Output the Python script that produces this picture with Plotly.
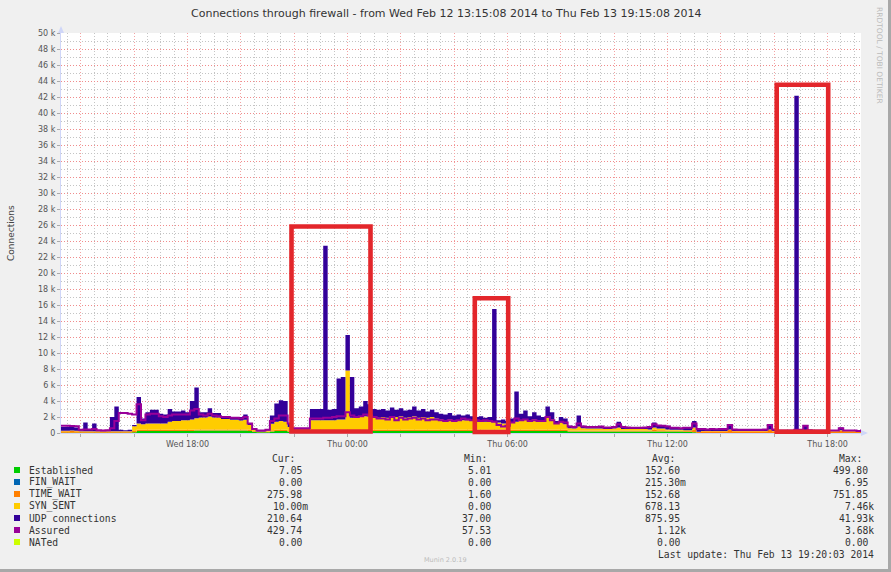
import pandas as pd
import plotly.graph_objects as go

# ---------------- data (10-minute samples, 6 per hour, 30 hours + last sample) ----------------
start = pd.Timestamp("2014-02-12 13:15:08")
end = pd.Timestamp("2014-02-13 19:15:08")
times = pd.date_range(start, periods=181, freq="10min")

established = [
    30, 30, 30, 30, 30, 30,
    30, 30, 30, 30, 30, 30,
    30, 30, 30, 30, 100, 250,
    250, 250, 250, 250, 250, 250,
    250, 250, 250, 250, 250, 250,
    300, 300, 300, 300, 300, 300,
    300, 300, 300, 300, 300, 300,
    250, 150, 100, 100, 100, 200,
    250, 250, 250, 150, 100, 100,
    100, 100, 250, 250, 250, 250,
    250, 250, 250, 250, 250, 250,
    250, 250, 250, 250, 250, 250,
    250, 250, 250, 250, 250, 250,
    250, 250, 250, 250, 250, 250,
    250, 250, 250, 250, 250, 250,
    250, 250, 250, 250, 250, 250,
    250, 250, 250, 250, 250, 250,
    250, 250, 250, 250, 250, 250,
    250, 250, 250, 250, 250, 250,
    200, 200, 200, 200, 200, 200,
    200, 200, 200, 200, 200, 200,
    200, 200, 200, 200, 200, 200,
    200, 200, 200, 200, 200, 200,
    200, 200, 150, 150, 100, 10,
    10, 10, 10, 10, 10, 10,
    10, 10, 10, 10, 10, 10,
    10, 10, 10, 10, 10, 10,
    10, 10, 10, 10, 10, 10,
    10, 10, 10, 10, 10, 10,
    10, 10, 10, 10, 10, 10,
    7,
]

fin_wait = [
    0, 0, 0, 0, 0, 0,  0, 0, 0, 0, 0, 0,  0, 0, 0, 0, 0, 0,
    0, 0, 0, 0, 0, 0,  0, 0, 0, 0, 0, 0,  0, 0, 0, 0, 0, 0,
    0, 0, 0, 0, 0, 0,  0, 0, 0, 0, 0, 0,  0, 0, 0, 0, 0, 0,
    0, 0, 0, 0, 0, 0,  0, 0, 0, 0, 0, 0,  0, 0, 0, 0, 0, 0,
    0, 0, 0, 0, 0, 0,  0, 0, 0, 0, 0, 0,  0, 0, 0, 0, 0, 0,
    0, 0, 0, 0, 0, 0,  0, 0, 0, 0, 0, 0,  0, 0, 0, 0, 0, 0,
    0, 0, 0, 0, 0, 0,  0, 0, 0, 0, 0, 0,  0, 0, 0, 0, 0, 0,
    0, 0, 0, 0, 0, 0,  0, 0, 0, 0, 0, 0,  0, 0, 0, 0, 0, 0,
    0, 0, 0, 0, 0, 0,  0, 0, 0, 0, 0, 0,  0, 0, 0, 0, 0, 0,
    0, 0, 0, 0, 0, 0,  0, 0, 0, 0, 0, 0,  0, 0, 0, 0, 0, 0,
    0,
]

time_wait = [
    200, 200, 220, 200, 150, 150,
    150, 150, 150, 150, 150, 150,
    150, 150, 150, 150, 150, 150,
    150, 150, 150, 150, 150, 150,
    150, 150, 150, 150, 150, 150,
    150, 150, 150, 150, 150, 150,
    150, 150, 150, 150, 150, 150,
    150, 100, 50, 50, 100, 150,
    150, 150, 150, 100, 100, 100,
    100, 100, 150, 150, 150, 150,
    150, 150, 150, 150, 150, 150,
    150, 150, 150, 150, 150, 150,
    150, 150, 150, 150, 150, 150,
    150, 150, 150, 150, 150, 150,
    150, 150, 150, 150, 150, 150,
    150, 150, 150, 150, 150, 150,
    150, 150, 150, 150, 150, 150,
    150, 150, 150, 150, 150, 150,
    150, 150, 150, 150, 150, 150,
    100, 100, 100, 100, 100, 100,
    100, 100, 100, 100, 100, 100,
    100, 100, 100, 100, 100, 100,
    100, 200, 150, 150, 100, 100,
    100, 100, 100, 100, 300, 100,
    200, 200, 200, 200, 200, 200,
    400, 200, 200, 200, 200, 200,
    200, 200, 200, 400, 200, 200,
    200, 200, 200, 200, 200, 300,
    200, 200, 200, 200, 200, 200,
    200, 300, 200, 200, 200, 200,
    276,
]

syn_sent = [
    50, 50, 50, 50, 40, 40,
    50, 50, 50, 50, 50, 50,
    50, 50, 50, 50, 600, 800,
    700, 800, 800, 800, 800, 800,
    1000, 1100, 1100, 1200, 1200, 1300,
    1400, 1500, 1500, 1600, 1500, 1500,
    1300, 1300, 1200, 1200, 1100, 1200,
    600, 150, 50, 50, 100, 800,
    1000, 1100, 1000, 500, 200, 200,
    200, 200, 1200, 1200, 1200, 1200,
    1200, 1200, 1300, 1300, 7400, 1500,
    1500, 1600, 1700, 1700, 1600, 1500,
    1600, 1500, 1700, 1600, 1700, 1500,
    1600, 1700, 1500, 1600, 1500, 1600,
    1400, 1300, 1200, 1300, 1200, 1200,
    1200, 1200, 1100, 1000, 1000, 1000,
    1000, 1000, 900, 800, 800, 900,
    1000, 1200, 1300, 1200, 1300, 1200,
    1100, 1500, 1300, 800, 900, 700,
    300, 250, 500, 300, 250, 250,
    250, 250, 200, 200, 250, 400,
    200, 200, 200, 200, 200, 200,
    150, 300, 200, 200, 150, 100,
    100, 100, 100, 100, 300, 50,
    30, 30, 30, 30, 30, 30,
    30, 30, 30, 30, 30, 30,
    30, 30, 30, 30, 30, 30,
    30, 30, 30, 30, 30, 30,
    30, 30, 30, 30, 30, 30,
    30, 30, 30, 30, 30, 30,
    0.01,
]

udp_connections = [
    470, 500, 450, 420, 130, 1080,
    270, 970, 120, 70, 120, 1770,
    3070, 170, 120, 170, 150, 3300,
    700, 1400, 1700, 1700, 1200, 1100,
    1600, 1200, 1200, 1200, 1000, 2300,
    3850, 650, 650, 1050, 550, 550,
    350, 250, 350, 250, 450, 650,
    200, 100, 100, 100, 100, 1050,
    2300, 2600, 2600, 450, 200, 200,
    200, 200, 1400, 1400, 1400, 21800,
    1300, 1400, 5100, 5300, 4450, 5100,
    1200, 1300, 1900, 1500, 1000, 1000,
    1000, 900, 1100, 900, 1000, 900,
    900, 1200, 900, 1000, 800, 900,
    800, 700, 700, 800, 600, 700,
    600, 700, 600, 600, 700, 500,
    600, 14100, 300, 500, 300, 500,
    3800, 800, 1100, 500, 900, 600,
    500, 1400, 900, 300, 700, 700,
    300, 250, 1400, 300, 250, 250,
    200, 250, 200, 250, 250, 700,
    300, 200, 150, 200, 150, 200,
    350, 600, 450, 450, 450, 250,
    250, 200, 300, 300, 800, 340,
    260, 210, 260, 240, 260, 260,
    660, 210, 160, 160, 180, 160,
    160, 160, 210, 660, 260, 60,
    60, 60, 60, 41930, 160, 660,
    160, 60, 60, 60, 60, 60,
    60, 360, 60, 60, 60, 40,
    211,
]

assured = [
    900, 900, 880, 850, 400, 450,
    450, 500, 350, 300, 350, 600,
    1500, 2500, 2500, 2400, 2300, 3600,
    1600, 2300, 2400, 2400, 2100, 2000,
    2200, 2300, 2300, 2300, 2300, 2800,
    3000, 2300, 2200, 2400, 2200, 2100,
    2000, 2000, 1900, 1900, 1800, 2000,
    1200, 500, 300, 300, 400, 1500,
    1800, 2200, 2200, 1200, 600, 600,
    600, 600, 1800, 1800, 1800, 1900,
    1900, 2000, 2100, 2100, 2600, 2200,
    2000, 2100, 2300, 2200, 2000, 1800,
    1800, 1700, 2000, 1600, 1900, 1700,
    1800, 1900, 1700, 1800, 1600, 1700,
    1700, 1600, 1500, 1600, 1500, 1600,
    1800, 1700, 1600, 1600, 1500, 1600,
    1500, 1400, 1000, 800, 900, 1300,
    1800, 1600, 1700, 1500, 1600, 1500,
    1500, 2000, 1600, 1200, 1400, 1300,
    800, 750, 1200, 800, 750, 750,
    750, 800, 700, 700, 750, 1100,
    750, 700, 650, 650, 650, 700,
    750, 1100, 950, 900, 800, 650,
    650, 600, 650, 650, 1200, 500,
    500, 450, 500, 480, 500, 500,
    1000, 450, 400, 400, 420, 400,
    400, 400, 450, 1000, 450, 300,
    300, 300, 300, 400, 400, 900,
    350, 300, 300, 300, 300, 300,
    300, 600, 300, 300, 300, 250,
    430,
]

nated = [
    0, 0, 0, 0, 0, 0,  0, 0, 0, 0, 0, 0,  0, 0, 0, 0, 0, 0,
    0, 0, 0, 0, 0, 0,  0, 0, 0, 0, 0, 0,  0, 0, 0, 0, 0, 0,
    0, 0, 0, 0, 0, 0,  0, 0, 0, 0, 0, 0,  0, 0, 0, 0, 0, 0,
    0, 0, 0, 0, 0, 0,  0, 0, 0, 0, 0, 0,  0, 0, 0, 0, 0, 0,
    0, 0, 0, 0, 0, 0,  0, 0, 0, 0, 0, 0,  0, 0, 0, 0, 0, 0,
    0, 0, 0, 0, 0, 0,  0, 0, 0, 0, 0, 0,  0, 0, 0, 0, 0, 0,
    0, 0, 0, 0, 0, 0,  0, 0, 0, 0, 0, 0,  0, 0, 0, 0, 0, 0,
    0, 0, 0, 0, 0, 0,  0, 0, 0, 0, 0, 0,  0, 0, 0, 0, 0, 0,
    0, 0, 0, 0, 0, 0,  0, 0, 0, 0, 0, 0,  0, 0, 0, 0, 0, 0,
    0, 0, 0, 0, 0, 0,  0, 0, 0, 0, 0, 0,  0, 0, 0, 0, 0, 0,
    0,
]

# legend table
series_names = ["Established", "FIN_WAIT", "TIME_WAIT", "SYN_SENT", "UDP connections", "Assured", "NATed"]
series_colors = ["#00CC00", "#0066B3", "#FF8000", "#FFCC00", "#330099", "#990099", "#CCFF00"]
cur_vals = ["7.05", "0.00", "275.98", "10.00m", "210.64", "429.74", "0.00"]
min_vals = ["5.01", "0.00", "1.60", "0.00", "37.00", "57.53", "0.00"]
avg_vals = ["152.60", "215.30m", "152.68", "678.13", "875.95", "1.12k", "0.00"]
max_vals = ["499.80", "6.95", "751.85", "7.46k", "41.93k", "3.68k", "0.00"]

y_tick_vals = [0, 2000, 4000, 6000, 8000, 10000, 12000, 14000, 16000, 18000, 20000, 22000, 24000,
               26000, 28000, 30000, 32000, 34000, 36000, 38000, 40000, 42000, 44000, 46000, 48000, 50000]
y_tick_labels = ["0", "2 k", "4 k", "6 k", "8 k", "10 k", "12 k", "14 k", "16 k", "18 k", "20 k", "22 k", "24 k",
                 "26 k", "28 k", "30 k", "32 k", "34 k", "36 k", "38 k", "40 k", "42 k", "44 k", "46 k", "48 k", "50 k"]
x_label_times = ["2014-02-12 18:00:00", "2014-02-13 00:00:00", "2014-02-13 06:00:00",
                 "2014-02-13 12:00:00", "2014-02-13 18:00:00"]
x_tick_labels = ["Wed 18:00", "Thu 00:00", "Thu 06:00", "Thu 12:00", "Thu 18:00"]

title_text = "Connections through firewall - from Wed Feb 12 13:15:08 2014 to Thu Feb 13 19:15:08 2014"

# ---------------- layout geometry (pixels) ----------------
W, H = 891, 572
PL, PT, PW, PH = 61, 33, 800, 400


def px(x):
    return (x - PL) / PW


def py(y):
    return (PT + PH - y) / PH


SANS = "DejaVu Sans"
MONO = "DejaVu Sans Mono"

fig = go.Figure()

fig.add_trace(go.Scatter(x=times, y=nated, mode="lines", hoverinfo="skip", showlegend=False,
                         line=dict(color="#CCFF00", width=1, shape="hv")))
for name, vals, col in zip(series_names[:5],
                           [established, fin_wait, time_wait, syn_sent, udp_connections],
                           series_colors[:5]):
    fig.add_trace(go.Scatter(x=times, y=vals, name=name, mode="lines", stackgroup="one",
                             line=dict(width=0, shape="hv", color=col), fillcolor=col,
                             showlegend=False, hoverinfo="skip"))
fig.add_trace(go.Scatter(x=times, y=assured, name="Assured", mode="lines", showlegend=False,
                         hoverinfo="skip", line=dict(color="#990099", width=2, shape="hv")))

# x ticks every 2 hours, labels every 6 hours
grid_times = pd.date_range("2014-02-12 14:00:00", "2014-02-13 18:00:00", freq="2h")
label_map = dict(zip([pd.Timestamp(t) for t in x_label_times], x_tick_labels))
x_tick_text = [label_map.get(t, "") for t in grid_times]

MAJOR = "#F3A3A3"
MINOR = "#C4C4C4"
AXISC = "#CFD6F8"

fig.update_layout(
    width=W, height=H, autosize=False,
    margin=dict(l=PL, r=W - PL - PW, t=PT, b=H - PT - PH, pad=0),
    paper_bgcolor="#F0F0F0", plot_bgcolor="#FFFFFF",
    showlegend=False,
    xaxis=dict(
        type="date", range=[start, end], fixedrange=True,
        tickmode="array", tickvals=list(grid_times), ticktext=x_tick_text,
        showgrid=True, gridcolor=MAJOR, griddash="1px,2px", gridwidth=1,
        minor=dict(dtick=1800000, tick0="2014-02-12 13:30:00", showgrid=True,
                   gridcolor=MINOR, griddash="1px,2px", gridwidth=1),
        ticks="outside", ticklen=3, tickcolor="#AAAAAA", tickwidth=1,
        tickfont=dict(family=SANS, size=8, color="#555555"),
        showline=True, linecolor=AXISC, linewidth=1, zeroline=False,
    ),
    yaxis=dict(
        range=[0, 50000], fixedrange=True,
        tickmode="array", tickvals=y_tick_vals, ticktext=y_tick_labels,
        showgrid=True, gridcolor="#F08C8C", griddash="1px,2px", gridwidth=1,
        minor=dict(dtick=1000, showgrid=True, gridcolor=MINOR, griddash="1px,2px", gridwidth=1),
        ticks="outside", ticklen=3, tickcolor="#AAAAAA", tickwidth=1,
        tickfont=dict(family=SANS, size=8, color="#555555"),
        showline=True, linecolor=AXISC, linewidth=1, zeroline=False,
    ),
)

ann = []
ann.append(dict(text=title_text, x=px(445.5), y=py(14), xref="paper", yref="paper",
                xanchor="center", yanchor="middle", showarrow=False,
                font=dict(family=SANS, size=11, color="#333333")))
ann.append(dict(text="Connections", x=px(11), y=py(233), xref="paper", yref="paper",
                xanchor="center", yanchor="middle", showarrow=False, textangle=-90,
                font=dict(family=SANS, size=9, color="#444444")))
ann.append(dict(text="RRDTOOL / TOBI OETIKER", x=px(880), y=py(55), xref="paper", yref="paper",
                xanchor="center", yanchor="middle", showarrow=False, textangle=90,
                font=dict(family=SANS, size=7.5, color="#BBBBBB")))
ann.append(dict(text="Munin 2.0.19", x=px(445), y=py(560), xref="paper", yref="paper",
                xanchor="center", yanchor="middle", showarrow=False,
                font=dict(family=SANS, size=6.5, color="#BBBBBB")))

CH = 5.85  # monospace char width
headers = ["Cur:", "Min:", "Avg:", "Max:"]
header_right = [297, 488.5, 677, 864]
field_right = [310, 499, 688, 876]
for htxt, hx in zip(headers, header_right):
    ann.append(dict(text=htxt, x=px(hx), y=py(458), xref="paper", yref="paper",
                    xanchor="right", yanchor="middle", showarrow=False,
                    font=dict(family=MONO, size=9.7, color="#333333")))

shapes = []
for i, name in enumerate(series_names):
    ry = 470 + 12 * i
    shapes.append(dict(type="rect", xref="paper", yref="paper",
                       x0=px(14), x1=px(20), y0=py(ry - 3), y1=py(ry + 3),
                       fillcolor=series_colors[i], line=dict(width=0)))
    ann.append(dict(text=name, x=px(26.5), y=py(ry), xref="paper", yref="paper",
                    xanchor="left", yanchor="middle", showarrow=False,
                    font=dict(family=MONO, size=9.7, color="#333333")))
    for col, fr in zip([cur_vals, min_vals, avg_vals, max_vals], field_right):
        v = col[i]
        xr = fr if v[-1].isalpha() else fr - CH
        ann.append(dict(text=v, x=px(xr), y=py(ry), xref="paper", yref="paper",
                        xanchor="right", yanchor="middle", showarrow=False,
                        font=dict(family=MONO, size=9.7, color="#333333")))

ann.append(dict(text="Last update: Thu Feb 13 19:20:03 2014", x=px(876), y=py(554),
                xref="paper", yref="paper", xanchor="right", yanchor="middle", showarrow=False,
                font=dict(family=MONO, size=9.7, color="#333333")))

# axis arrows
shapes.append(dict(type="path", xref="paper", yref="paper", layer="above",
                   path=f"M {px(58)} {py(33)} L {px(64)} {py(33)} L {px(61)} {py(26)} Z",
                   fillcolor=AXISC, line=dict(width=0)))
shapes.append(dict(type="path", xref="paper", yref="paper", layer="above",
                   path=f"M {px(861)} {py(430)} L {px(861)} {py(436)} L {px(868)} {py(433)} Z",
                   fillcolor=AXISC, line=dict(width=0)))

# frame shading
shapes.append(dict(type="rect", xref="paper", yref="paper", x0=px(888), x1=px(891), y0=py(0), y1=py(572),
                   fillcolor="#A8A8A8", line=dict(width=0)))
shapes.append(dict(type="rect", xref="paper", yref="paper", x0=px(0), x1=px(891), y0=py(569), y1=py(572),
                   fillcolor="#A8A8A8", line=dict(width=0)))

# red highlight boxes
red_boxes = [(291.5, 226.5, 370.5, 431.5), (474.8, 298.3, 508.2, 432.0), (776.7, 84.8, 828.2, 431.7)]
for (x0, y0, x1, y1) in red_boxes:
    shapes.append(dict(type="rect", xref="paper", yref="paper", layer="above",
                       x0=px(x0), x1=px(x1), y0=py(y1), y1=py(y0),
                       line=dict(color="#E3262B", width=4.6), fillcolor="rgba(0,0,0,0)"))

fig.update_layout(annotations=ann, shapes=shapes)
fig.write_html("out.html")
